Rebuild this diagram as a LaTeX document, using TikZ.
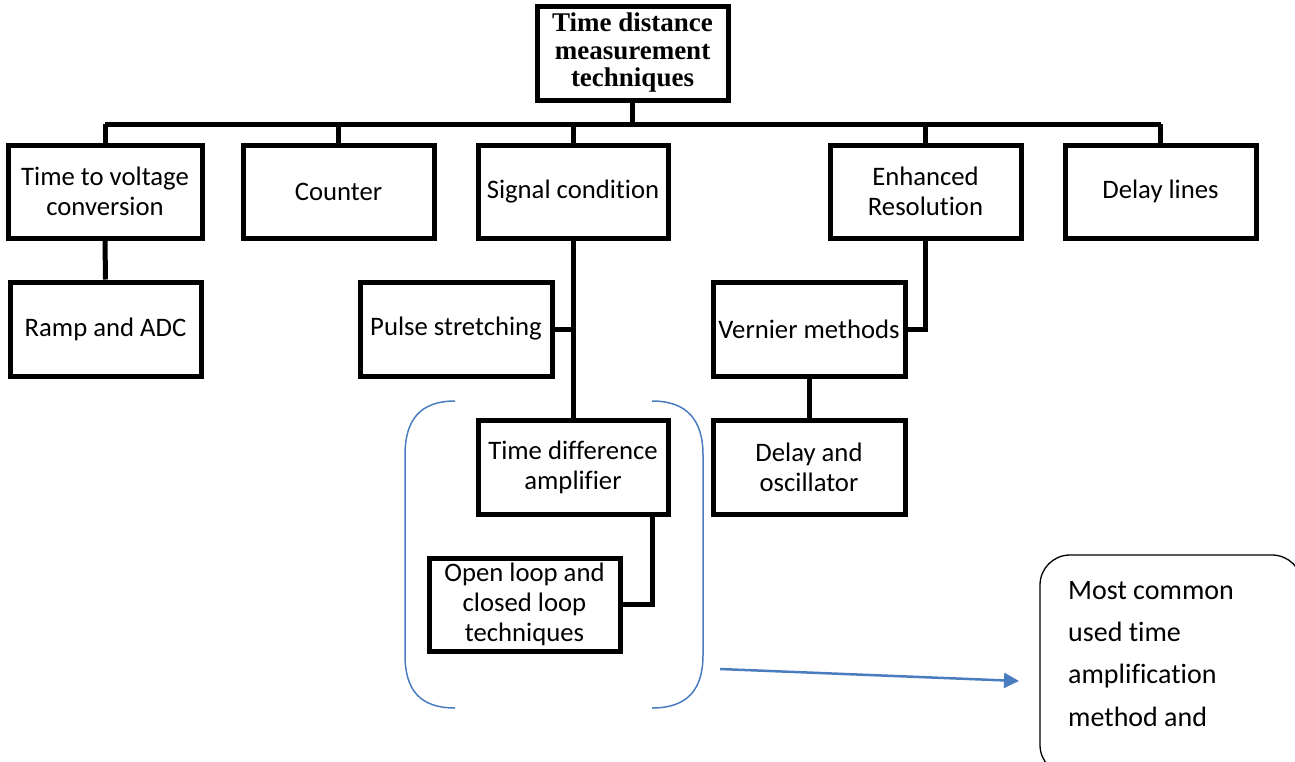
\documentclass[tikz,border=0pt]{standalone}
\usepackage{fontspec}
\setmainfont{Carlito}[Ligatures=NoCommon]
\newfontfamily\titlefont{Liberation Serif}
\usetikzlibrary{arrows.meta}
\definecolor{bracketblue}{HTML}{4A7CC0}
\begin{document}
\begin{tikzpicture}[x=1pt,y=-1pt,
  box/.style={draw, line width=5pt, rectangle, align=center, inner sep=0pt,
    font=\fontsize{26.7}{30}\selectfont},
  wire/.style={line width=5pt},
  brk/.style={draw=bracketblue, line width=1.5pt},
]
\useasboundingbox (0,0) rectangle (1295,761);
\clip (0,0) rectangle (1295,761);
% top
\node[box, minimum width=191pt, minimum height=94pt, font=\titlefont\bfseries\fontsize{27}{27.5}\selectfont] (top) at (632.5,53) {Time distance\\measurement\\techniques};
% row 1
\node[box, minimum width=194pt, minimum height=93pt] (tvc) at (105,191.5) {Time to voltage\\conversion};
\node[box, minimum width=191pt, minimum height=93pt] (cnt) at (338.5,191.5) {Counter};
\node[box, minimum width=190pt, minimum height=93pt] (sig) at (573,191.5) {Signal condition};
\node[box, minimum width=191pt, minimum height=93pt] (enh) at (925.5,191.5) {Enhanced\\Resolution};
\node[box, minimum width=191pt, minimum height=93pt] (dly) at (1160.5,191.5) {Delay lines};
% row 2
\node[box, minimum width=191pt, minimum height=94pt] (ramp) at (105.5,329) {Ramp and ADC};
\node[box, minimum width=192pt, minimum height=94pt] (pulse) at (456,329) {Pulse stretching};
\node[box, minimum width=192pt, minimum height=94pt] (vern) at (809,329) {Vernier methods};
% row 3
\node[box, minimum width=190pt, minimum height=94pt] (tda) at (573,467) {Time difference\\amplifier};
\node[box, minimum width=192pt, minimum height=94pt] (osc) at (809,467) {Delay and\\oscillator};
% row 4
\node[box, minimum width=191pt, minimum height=93pt] (open) at (524.5,604.5) {Open loop and\\closed loop\\techniques};
% connectors
\coordinate (bus) at (632.5,124);
\draw[wire] (top.south) -- (bus);
\draw[wire] (tvc.north |- bus) -- (dly.north |- bus);
\foreach \n in {tvc,cnt,sig,enh,dly} \draw[wire] (\n.north |- bus) -- (\n.north);
\draw[wire] (tvc.south) -- (ramp.north);
\draw[wire] (sig.south) -- (tda.north);
\draw[wire] (pulse.east) -- (sig.south |- pulse.east);
\draw[wire] (enh.south) |- (vern.east);
\draw[wire] (vern.south) -- (osc.north);
\draw[wire] (tda.south -| 652,0) |- (open.east);
% brackets
\draw[brk] (455,401) .. controls (420,401) and (405,420) .. (405,455) -- (405,655) .. controls (405,690) and (420,708) .. (455,708);
\draw[brk] (652,401) .. controls (687,401) and (703,420) .. (703,455) -- (703,655) .. controls (703,690) and (687,708) .. (652,708);
% note
\node[draw, line width=1.3pt, rounded corners=30pt, minimum width=262pt, minimum height=220pt, inner sep=0pt] (note) at (1171,665) {};
\node[anchor=north west, align=left, inner sep=0pt, font=\fontsize{28}{42.3}\selectfont] (notetext) at (1068,581) {Most common\\used time\\amplification\\method and};
\coordinate (arrstart) at (720,669);
\draw[draw=bracketblue, line width=2.5pt, -{Triangle[length=15pt,width=15pt]}] (arrstart) -- (1019,681);
\end{tikzpicture}
\end{document}
